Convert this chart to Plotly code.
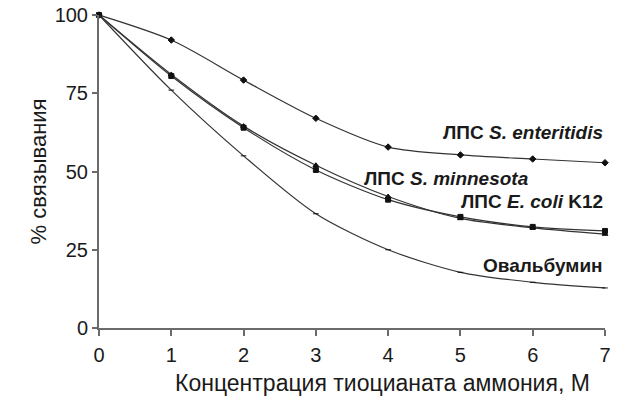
import plotly.graph_objects as go

x_conc = [0, 1, 2, 3, 4, 5, 6, 7]
enteritidis = [100, 92, 79.2, 67, 57.8, 55.3, 54, 52.8]
minnesota = [100, 81, 64.5, 52, 42, 35, 32, 30]
ecoli = [100, 80.5, 64, 50.5, 41, 35.5, 32.3, 31]
ovalbumin = [100, 76, 55, 36.5, 25, 17.8, 14.6, 12.8]

x_ticks = [0, 1, 2, 3, 4, 5, 6, 7]
y_ticks = [0, 25, 50, 75, 100]

series = [
    ("ЛПС S. enteritidis", enteritidis, "diamond", 5),
    ("ЛПС S. minnesota", minnesota, "triangle-up", 5),
    ("ЛПС E. coli K12", ecoli, "square", 5),
    ("Овальбумин", ovalbumin, "line-ew", 4),
]

fig = go.Figure()
for name, vals, sym, size in series:
    fig.add_trace(go.Scatter(
        x=x_conc, y=vals, name=name, mode="lines+markers",
        line=dict(color="#333333", width=1.2, shape="spline", smoothing=0.8),
        marker=dict(symbol=sym, size=size, color="#111111",
                    line=dict(color="#111111", width=1)),
        cliponaxis=False, showlegend=False,
    ))

FONT = "Liberation Sans, Arial, sans-serif"
lab_font = dict(family=FONT, size=19, color="#1a1a1a")
annots = [
    (7, 62.5, "<b>ЛПС <i>S. enteritidis</i></b>"),
    (5.98, 47.9, "<b>ЛПС <i>S. minnesota</i></b>"),
    (7, 40.3, "<b>ЛПС <i>E. coli</i> K12</b>"),
    (7, 20.1, "<b>Овальбумин</b>"),
]
for ax_, ay_, txt in annots:
    fig.add_annotation(x=ax_, y=ay_, text=txt, showarrow=False,
                       xanchor="right", yanchor="middle", font=lab_font)

# x-axis title (offset to the right of the plot centre, as in the reference)
fig.add_annotation(x=0.561, y=-0.176, xref="paper", yref="paper",
                   text="Концентрация тиоцианата аммония, М", showarrow=False,
                   xanchor="center", yanchor="middle",
                   font=dict(family=FONT, size=23, color="#1a1a1a"))

axis_font = dict(family=FONT, size=20, color="#1a1a1a")
fig.update_layout(
    width=617, height=405,
    margin=dict(l=99, r=12, t=15, b=77),
    plot_bgcolor="white", paper_bgcolor="white",
    xaxis=dict(
        range=[0, 7], tickvals=x_ticks, ticktext=[str(v) for v in x_ticks],
        showgrid=False, zeroline=False, showline=True, linecolor="#6b6b6b", linewidth=2,
        ticks="outside", ticklen=6, tickwidth=2, tickcolor="#6b6b6b",
        tickfont=axis_font, ticklabelstandoff=2, automargin=False,
        ticklabeloverflow="allow",
    ),
    yaxis=dict(
        range=[0, 100], tickvals=y_ticks, ticktext=[str(v) for v in y_ticks],
        showgrid=False, zeroline=False, showline=True, linecolor="#6b6b6b", linewidth=2,
        ticks="outside", ticklen=5, tickwidth=2, tickcolor="#6b6b6b",
        tickfont=axis_font, ticklabelstandoff=0, automargin=False,
        ticklabeloverflow="allow",
        title=dict(text="% связывания",
                   font=dict(family=FONT, size=22, color="#1a1a1a"), standoff=2),
    ),
)

# remove the page's default 8px body margin so the figure fills the window
fig.write_html("out.html", config={"displayModeBar": False},
               post_script="document.body.style.margin='0px';")
